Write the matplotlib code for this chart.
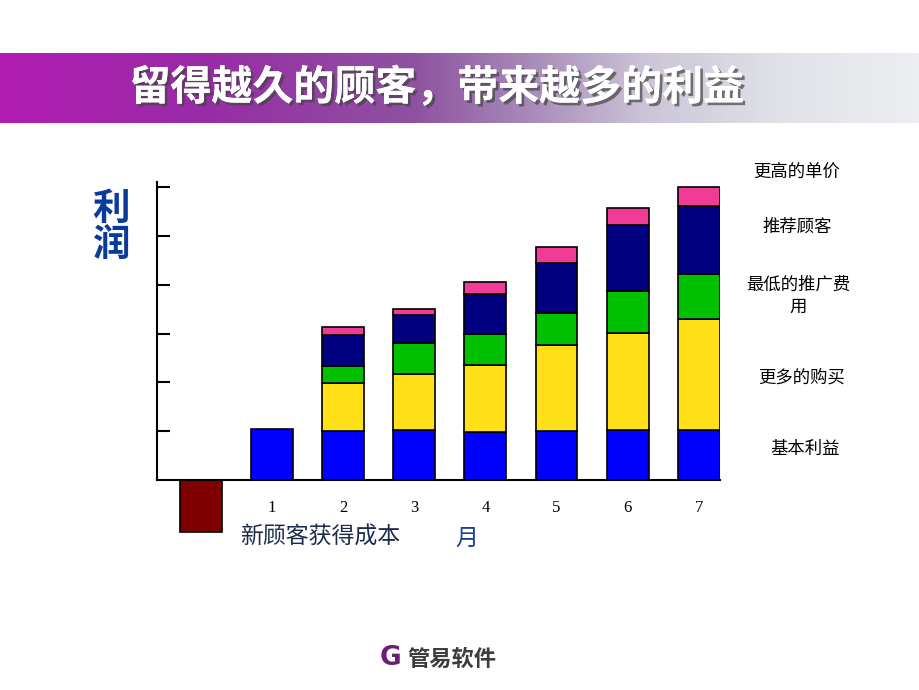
import numpy as np
import matplotlib.pyplot as plt
from matplotlib import patheffects as pe
from matplotlib.colors import LinearSegmentedColormap

plt.rcParams['font.family'] = ['Noto Sans CJK SC', 'DejaVu Sans']

# ---------------- data ----------------
title = '留得越久的顾客，带来越多的利益'
months = ['1', '2', '3', '4', '5', '6', '7']
acquisition_cost = -1.07
base_profit = [1.04, 1.00, 1.02, 0.98, 1.00, 1.02, 1.02]
more_purchase = [0.00, 0.98, 1.15, 1.37, 1.76, 2.00, 2.27]
lower_cost = [0.00, 0.35, 0.64, 0.64, 0.66, 0.86, 0.94]
referrals = [0.00, 0.64, 0.57, 0.82, 1.02, 1.35, 1.39]
higher_price = [0.00, 0.16, 0.12, 0.25, 0.33, 0.35, 0.39]
series_labels = ['基本利益', '更多的购买', '最低的推广费\n用', '推荐顾客', '更高的单价']
series_colors = ['#0000FF', '#FFE019', '#00C000', '#000080', '#F03C96']

W, H = 920, 690
fig = plt.figure(figsize=(9.2, 6.9), dpi=100)
fig.patch.set_facecolor('white')


def fx(px):
    return px / W


def fy(py):
    return 1 - py / H


# ---------------- title band ----------------
band = fig.add_axes([0, fy(123), 1, 70 / H])
stops = [(0.0, '#B21CB2'), (0.22, '#982CA6'), (0.45, '#8E52A0'),
         (0.58, '#A88CBA'), (0.70, '#CBC4D6'), (0.85, '#E0E2E8'), (1.0, '#ECEEF1')]
cmap = LinearSegmentedColormap.from_list('band', stops)
band.imshow(np.linspace(0, 1, 600)[None, :], aspect='auto', cmap=cmap,
            extent=[0, 1, 0, 1])
band.set_axis_off()
fig.text(fx(437), fy(88), title, color='white', fontsize=29.5, fontweight='bold',
         ha='center', va='center',
         path_effects=[pe.withSimplePatchShadow(offset=(2, -2), shadow_rgbFace='#444444', alpha=0.7),
                       pe.Normal()])

# ---------------- chart ----------------
ax = fig.add_axes([fx(157), fy(540), fx(720) - fx(157), (540 - 182) / H])
xmin, xmax = -0.62, 7.30
ytop = 6.107
ax.set_xlim(xmin, xmax)
ax.set_ylim(-1.23, ytop)
bw = 0.59

# acquisition cost bar
ax.bar([0], [acquisition_cost], width=bw, color='#800000', edgecolor='black', linewidth=1.2, zorder=3)

xs = np.arange(1, len(months) + 1)
stack = [base_profit, more_purchase, lower_cost, referrals, higher_price]
bottom = np.zeros(len(months))
for vals, col in zip(stack, series_colors):
    vals = np.array(vals)
    m = vals > 0
    ax.bar(xs[m], vals[m], bottom=bottom[m], width=bw, color=col,
           edgecolor='black', linewidth=1.2, zorder=3)
    bottom = bottom + vals

ax.plot([xmin, 7 + bw / 2], [0, 0], color='black', lw=1.5, zorder=4, clip_on=False)

for s in ['top', 'right', 'bottom']:
    ax.spines[s].set_visible(False)
ax.spines['left'].set_bounds(0, ytop)
ax.spines['left'].set_linewidth(1.5)
ax.set_yticks([1, 2, 3, 4, 5, 6])
ax.tick_params(axis='y', direction='in', length=9, width=1.5, labelleft=False)
ax.set_xticks([])
ax.patch.set_alpha(0)

for x, lab in zip(xs, months):
    ax.text(x, -0.57, lab, ha='center', va='center', fontsize=12,
            family=['Liberation Serif'], color='black')

# axis texts
fig.text(fx(240), fy(537), '新顾客获得成本', ha='left', va='center', fontsize=16.5, color='#1c2b4c')
fig.text(fx(467), fy(538), '月', ha='center', va='center', fontsize=16.5, color='#1a3c9c')
fig.text(fx(111), fy(208), '利', ha='center', va='center', fontsize=27, fontweight='bold', color='#0a3a9a')
fig.text(fx(111), fy(244), '润', ha='center', va='center', fontsize=27, fontweight='bold', color='#0a3a9a')

# right labels
label_pos = [(805, 449), (802, 378), (798, 296), (797, 227), (797, 173)]
for lab, (px, py) in zip(series_labels, label_pos):
    fig.text(fx(px), fy(py), lab, ha='center', va='center', fontsize=12.5,
             color='black', linespacing=1.3)

# logo
fig.text(fx(391), fy(658), 'G', ha='center', va='center', fontsize=19,
         fontweight='bold', color='#6b1f72', family=['DejaVu Sans'])
fig.text(fx(452), fy(659), '管易软件', ha='center', va='center', fontsize=16,
         fontweight='bold', color='#3d3d3d')

fig.savefig('out.png', dpi=100)
